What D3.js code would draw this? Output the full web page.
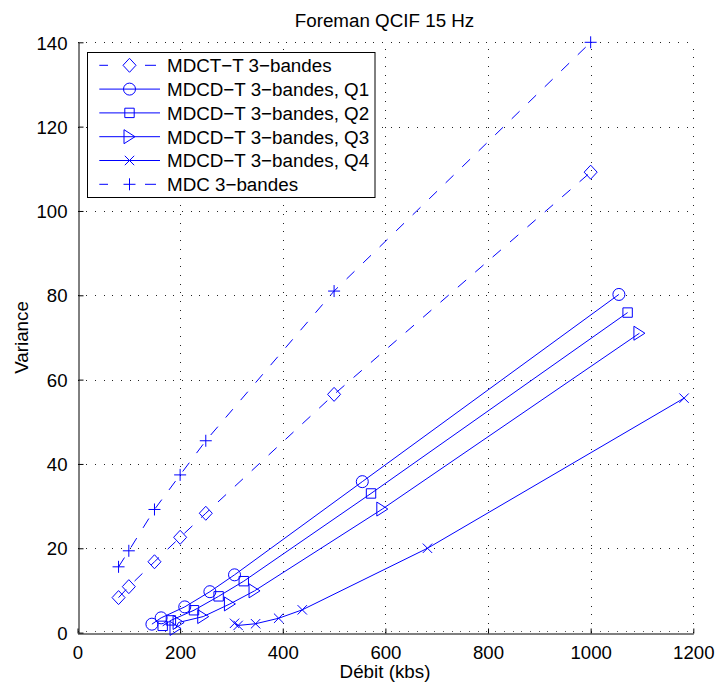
<!DOCTYPE html>
<html><head><meta charset="utf-8">
<script src="https://cdn.jsdelivr.net/npm/d3@7"></script>
<style>body{margin:0;background:#fff}svg{display:block}text{font-family:"Liberation Sans",Arial,sans-serif;fill:#000}</style>
</head><body>
<script>
const xTicks = [0, 200, 400, 600, 800, 1000, 1200];
const yTicks = [0, 20, 40, 60, 80, 100, 120, 140];

const mdctX = [80, 100, 150, 200, 250, 500, 1000];
const mdctY = [8.3, 10.9, 16.8, 22.6, 28.3, 56.5, 109.2];
const q1X = [145, 163, 209, 258, 306, 555, 1055];
const q1Y = [2.0, 3.5, 6.1, 9.7, 13.7, 35.8, 80.2];
const q2X = [166, 182, 227, 275, 324, 572, 1072];
const q2Y = [1.6, 2.9, 5.3, 8.6, 12.2, 33.0, 75.9];
const q3X = [191, 197, 245, 297, 345, 594, 1095];
const q3Y = [1.0, 2.4, 3.8, 6.8, 9.9, 29.3, 71.0];
const q4X = [306, 313, 347, 392, 438, 682, 1182];
const q4Y = [2.2, 1.7, 2.1, 3.4, 5.4, 20.0, 55.6];
const mdcX = [80, 100, 150, 200, 250, 500, 1000];
const mdcY = [15.6, 19.4, 29.2, 37.4, 45.5, 81.0, 140];

const seriesNames = ["MDCT\u2212T 3\u2212bandes", "MDCD\u2212T 3\u2212bandes, Q1", "MDCD\u2212T 3\u2212bandes, Q2",
  "MDCD\u2212T 3\u2212bandes, Q3", "MDCD\u2212T 3\u2212bandes, Q4", "MDC 3\u2212bandes"];
const seriesMarkers = ["diamond", "circle", "square", "triangle", "xmark", "plus"];
const seriesDashed = [true, false, false, false, false, true];
const seriesXs = [mdctX, q1X, q2X, q3X, q4X, mdcX];
const seriesYs = [mdctY, q1Y, q2Y, q3Y, q4Y, mdcY];

const W = 716, H = 684, blue = "#0000ff";
const x = d3.scaleLinear().domain([0, 1200]).range([77.5, 693.3]);
const y = d3.scaleLinear().domain([0, 140]).range([632.6, 42.3]);

const svg = d3.select("body").append("svg").attr("width", W).attr("height", H);

// grid
const g = svg.append("g").attr("stroke", "#222").attr("stroke-width", 1).attr("stroke-dasharray", "1,7.7").attr("shape-rendering", "crispEdges");
xTicks.filter(t => t > 0).forEach(t => g.append("line").attr("x1", Math.round(x(t)) + 0.5).attr("x2", Math.round(x(t)) + 0.5).attr("y1", y(0)).attr("y2", y(140)));
yTicks.filter(t => t > 0).forEach(t => g.append("line").attr("y1", Math.round(y(t)) + 0.5).attr("y2", Math.round(y(t)) + 0.5).attr("x1", x(0)).attr("x2", x(1200)));
g.append("line").attr("y1", Math.round(y(0)) - 1.5).attr("y2", Math.round(y(0)) - 1.5).attr("x1", x(0)).attr("x2", x(1200)).attr("stroke", "#555");

// axes
const fmt = d3.format("d");
const ax = svg.append("g").attr("transform", `translate(0,${Math.round(y(0)) + 0.5})`)
  .call(d3.axisBottom(x).tickValues(xTicks).tickFormat(fmt).tickSizeInner(-5).tickSizeOuter(0).tickPadding(12));
const ay = svg.append("g").attr("transform", `translate(${Math.round(x(0)) + 0.5},0)`)
  .call(d3.axisLeft(y).tickValues(yTicks).tickFormat(fmt).tickSizeInner(-5).tickSizeOuter(0).tickPadding(11));
[ax, ay].forEach(a => {
  a.select(".domain").attr("stroke", "#000");
  a.selectAll(".tick line").attr("stroke", "#000");
  a.selectAll("text").attr("font-size", 18.6).attr("font-family", "Liberation Sans, Arial, sans-serif").attr("fill", "#000");
});
ax.selectAll("text").attr("dy", "0.71em");
ay.selectAll("text").attr("dy", "0.36em");

// marker paths
function markerPath(type) {
  switch (type) {
    case "diamond": return "M0,-7L6.5,0L0,7L-6.5,0Z";
    case "circle": return "M6,0A6,6 0 1,1 -6,0A6,6 0 1,1 6,0Z";
    case "square": return "M-4.7,-4.7H4.7V4.7H-4.7Z";
    case "triangle": return "M-5.5,-7L5.5,0L-5.5,7Z";
    case "xmark": return "M-4.7,-4.7L4.7,4.7M-4.7,4.7L4.7,-4.7";
    case "plus": return "M-6,0H6M0,-6V6";
  }
}

const line = d3.line().x(d => x(d[0])).y(d => y(d[1]));
seriesNames.forEach((name, i) => {
  const pts = seriesXs[i].map((v, j) => [v, seriesYs[i][j]]);
  svg.append("path").attr("d", line(pts)).attr("fill", "none").attr("stroke", blue).attr("stroke-width", 1)
    .attr("stroke-dasharray", seriesDashed[i] ? "11,12" : null);
  svg.append("g").selectAll("path").data(pts).join("path")
    .attr("transform", d => `translate(${x(d[0])},${y(d[1])})`)
    .attr("d", markerPath(seriesMarkers[i])).attr("fill", "none").attr("stroke", blue).attr("stroke-width", 1);
});

// legend
const lg = svg.append("g");
lg.append("rect").attr("x", 87.5).attr("y", 52.5).attr("width", 287.5).attr("height", 145).attr("fill", "#fff").attr("stroke", "#000").attr("stroke-width", 1);
seriesNames.forEach((name, i) => {
  const cy = 65.3 + i * 23.8;
  if (seriesDashed[i]) {
    lg.append("line").attr("x1", 99.3).attr("x2", 108).attr("y1", cy).attr("y2", cy).attr("stroke", blue);
    lg.append("line").attr("x1", 145).attr("x2", 156).attr("y1", cy).attr("y2", cy).attr("stroke", blue);
  } else {
    lg.append("line").attr("x1", 99.3).attr("x2", 160).attr("y1", cy).attr("y2", cy).attr("stroke", blue);
  }
  lg.append("path").attr("transform", `translate(129.5,${cy})`).attr("d", markerPath(seriesMarkers[i]))
    .attr("fill", "none").attr("stroke", blue);
  lg.append("text").attr("x", 167).attr("y", cy + 6.8).attr("font-size", 18.8).text(name);
});

// titles
svg.append("text").attr("x", 384.5).attr("y", 27.3).attr("text-anchor", "middle").attr("font-size", 18.8).text("Foreman QCIF 15 Hz");
svg.append("text").attr("x", 385).attr("y", 678).attr("text-anchor", "middle").attr("font-size", 18.8).text("Débit (kbs)");
svg.append("text").attr("transform", "translate(27.5,337.5) rotate(-90)").attr("text-anchor", "middle").attr("font-size", 18.8).text("Variance");
</script>
</body></html>
